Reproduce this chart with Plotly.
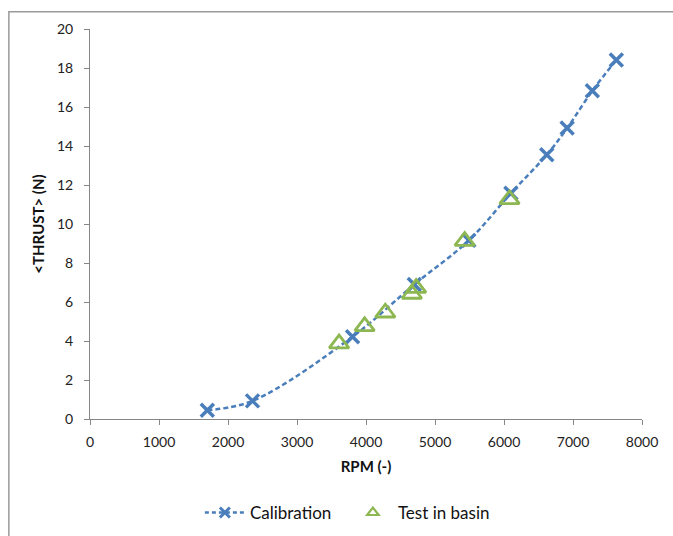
import plotly.graph_objects as go

# Calibration data
cal_rpm = [1700, 2355, 3805, 4700, 5490, 6100, 6620, 6915, 7280, 7628]
cal_thrust = [0.45, 0.93, 4.22, 6.9, 9.16, 11.58, 13.55, 14.92, 16.83, 18.41]

# Test in basin data
basin_rpm = [3610, 3980, 4280, 4665, 4727, 5430, 6080]
basin_thrust = [3.87, 4.75, 5.45, 6.41, 6.71, 9.12, 11.26]

x_ticks = [0, 1000, 2000, 3000, 4000, 5000, 6000, 7000, 8000]
y_ticks = [0, 2, 4, 6, 8, 10, 12, 14, 16, 18, 20]

BLUE = "#4A7EBB"
GREEN = "#8DB750"
AXIS = "#868686"
FONT = "Lato"

fig = go.Figure()
fig.add_trace(go.Scatter(
    x=cal_rpm, y=cal_thrust, name="Calibration",
    mode="lines+markers", showlegend=False,
    line=dict(color=BLUE, width=2.5, dash="5px,3px", shape="spline", smoothing=1.0),
    marker=dict(symbol="x-thin-open", size=13, color=BLUE,
                line=dict(color=BLUE, width=3.5)),
))
fig.add_trace(go.Scatter(
    x=basin_rpm, y=basin_thrust, name="Test in basin",
    mode="markers", showlegend=False,
    marker=dict(symbol="triangle-up-open", size=17, color=GREEN,
                line=dict(color=GREEN, width=2.8)),
))
# legend entries (smaller symbols, as in the original legend)
fig.add_trace(go.Scatter(
    x=[None], y=[None], name="Calibration", mode="lines+markers",
    line=dict(color=BLUE, width=2.5, dash="4px,3px"),
    marker=dict(symbol="x-thin-open", size=10, color=BLUE, line=dict(color=BLUE, width=3)),
))
fig.add_trace(go.Scatter(
    x=[None], y=[None], name="Test in basin", mode="markers",
    marker=dict(symbol="triangle-up-open", size=10, color=GREEN, line=dict(color=GREEN, width=2.2)),
))

fig.update_layout(
    width=673, height=536,
    margin=dict(l=90, r=31, t=29, b=117, autoexpand=False),
    paper_bgcolor="white", plot_bgcolor="white",
    font=dict(family=FONT, size=14, color="#222"),
    showlegend=True,
    legend=dict(orientation="h", xref="container", yref="container",
                x=0.297, y=0.043, xanchor="left", yanchor="middle",
                font=dict(family=FONT, size=17, color="#111"),
                itemwidth=40, entrywidth=93, tracegroupgap=0),
    xaxis=dict(range=[0, 8000], tickvals=x_ticks, ticktext=[str(v) for v in x_ticks],
               showgrid=False, zeroline=False, showline=True, linecolor=AXIS, linewidth=1,
               ticks="outside", ticklen=5, tickcolor=AXIS, ticklabelstandoff=5,
               automargin=False,
               title=dict(text="<b>RPM (-)</b>", font=dict(family=FONT, size=15, color="#111"),
                          standoff=12)),
    yaxis=dict(range=[0, 20], tickvals=y_ticks, ticktext=[str(v) for v in y_ticks],
               showgrid=False, zeroline=False, showline=True, linecolor=AXIS, linewidth=1,
               ticks="outside", ticklen=5, tickcolor=AXIS, ticklabelstandoff=8,
               automargin=False,
               title=dict(text="<b>&lt;THRUST&gt; (N)</b>", font=dict(family=FONT, size=15, color="#111"),
                          standoff=8)),
)

# outer chart frame
fig.add_shape(type="rect", xref="paper", yref="paper",
              x0=-0.147, x1=1.2, y0=-0.5, y1=1.0445,
              line=dict(color="#9a9a9a", width=1.5), layer="below")

fig.write_html("out.html")
